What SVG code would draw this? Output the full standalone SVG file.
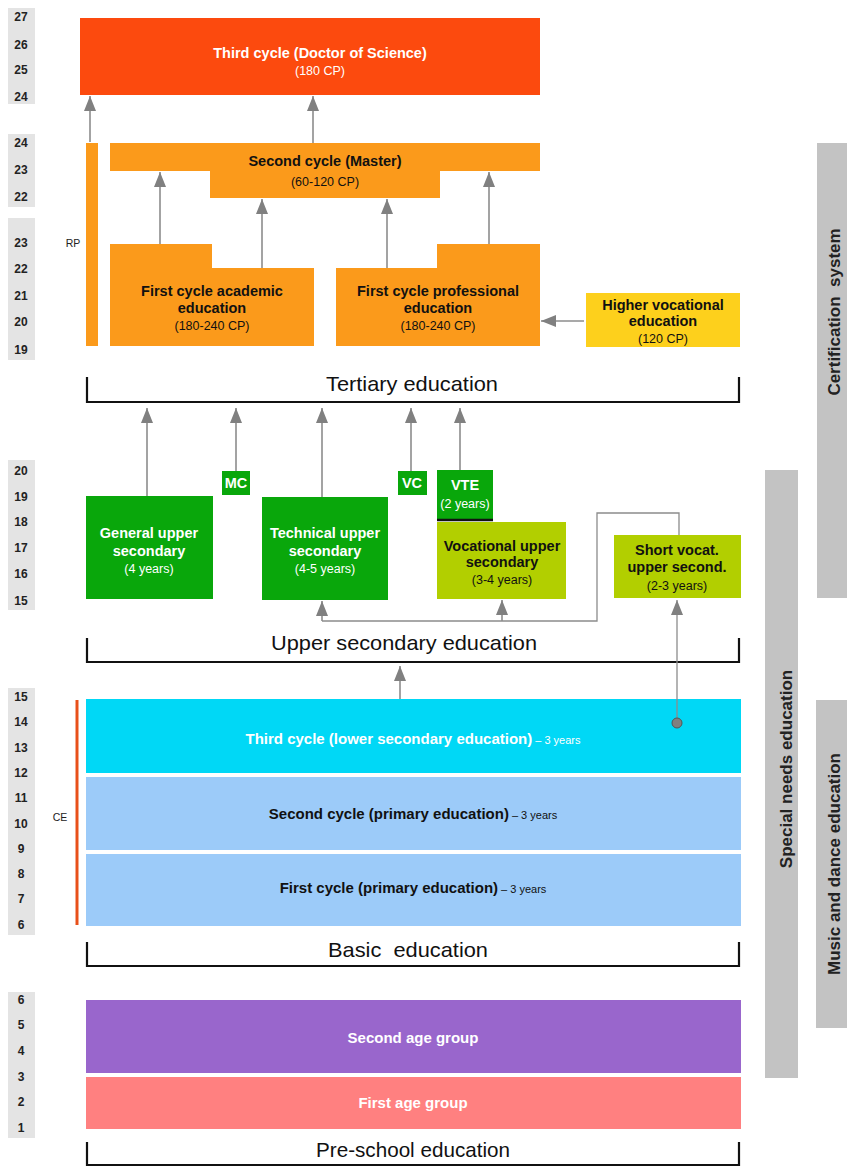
<svg xmlns="http://www.w3.org/2000/svg" width="847" height="1166" viewBox="0 0 847 1166">
<style>
text{font-family:"Liberation Sans",Arial,sans-serif}
.num{font-size:12px;font-weight:bold;fill:#222;text-anchor:middle}
.nbg{fill:#e4e4e4}
.t{font-size:14.5px;font-weight:bold;text-anchor:middle}
.s{font-size:12.5px;text-anchor:middle}
.w{fill:#fff}
.k{fill:#111}
.br{fill:none;stroke:#111;stroke-width:2.2}
.bl{font-size:21px;text-anchor:middle;fill:#111}
.con{fill:none;stroke:#8c8c8c;stroke-width:1.6}
.thin{fill:none;stroke:#8c8c8c;stroke-width:1.3}
.gbar{fill:#c3c3c3}
.vl{font-size:17px;font-weight:bold;text-anchor:middle;fill:#222}
.bb{font-size:15px;font-weight:bold}
.by{font-size:11px}
</style>
<defs>
<marker id="ah" markerUnits="userSpaceOnUse" markerWidth="16" markerHeight="12" refX="15" refY="6" orient="auto">
<path d="M0,0 L15,6 L0,12 z" fill="#808080"/>
</marker>
</defs>
<rect width="847" height="1166" fill="#fff"/>

<g id="age-scale">
<rect class="nbg" x="8" y="8" width="27" height="96"/>
<text class="num" x="21" y="21">27</text><text class="num" x="21" y="49">26</text><text class="num" x="21" y="74">25</text><text class="num" x="21" y="101">24</text>
<rect class="nbg" x="8" y="134" width="27" height="73"/>
<text class="num" x="21" y="147">24</text><text class="num" x="21" y="174">23</text><text class="num" x="21" y="201">22</text>
<rect class="nbg" x="8" y="218" width="27" height="142"/>
<text class="num" x="21" y="247">23</text><text class="num" x="21" y="273">22</text><text class="num" x="21" y="300">21</text><text class="num" x="21" y="326">20</text><text class="num" x="21" y="354">19</text>
<rect class="nbg" x="8" y="460" width="27" height="150"/>
<text class="num" x="21" y="475">20</text><text class="num" x="21" y="501">19</text><text class="num" x="21" y="526">18</text><text class="num" x="21" y="552">17</text><text class="num" x="21" y="578">16</text><text class="num" x="21" y="605">15</text>
<rect class="nbg" x="8" y="688" width="27" height="247"/>
<text class="num" x="21" y="701">15</text><text class="num" x="21" y="726">14</text><text class="num" x="21" y="752">13</text><text class="num" x="21" y="777">12</text><text class="num" x="21" y="802">11</text><text class="num" x="21" y="828">10</text><text class="num" x="21" y="853">9</text><text class="num" x="21" y="878">8</text><text class="num" x="21" y="903">7</text><text class="num" x="21" y="929">6</text>
<rect class="nbg" x="8" y="992" width="27" height="146"/>
<text class="num" x="21" y="1004">6</text><text class="num" x="21" y="1029">5</text><text class="num" x="21" y="1055">4</text><text class="num" x="21" y="1081">3</text><text class="num" x="21" y="1106">2</text><text class="num" x="21" y="1132">1</text>
</g>

<g id="third-cycle-doctor">
<rect x="80" y="18" width="460" height="77" fill="#fc4a0e"/>
<text class="t w" x="320" y="58">Third cycle (Doctor of Science)</text>
<text class="s w" x="320" y="75">(180 CP)</text>
</g>

<g id="rp">
<rect x="86" y="143" width="12" height="203" fill="#fb9a1b"/>
<text x="73" y="247" font-size="10.5" text-anchor="middle" fill="#222">RP</text>
</g>

<g id="second-cycle-master">
<path d="M110,143 H540 V171 H440 V198 H210 V171 H110 Z" fill="#fb9a1b"/>
<text class="t k" x="325" y="166">Second cycle (Master)</text>
<text class="s k" x="325" y="186">(60-120 CP)</text>
</g>

<g id="first-cycle-academic">
<path d="M110,244 H212 V268 H314 V346 H110 Z" fill="#fb9a1b"/>
<text class="t k" x="212" y="296">First cycle academic</text>
<text class="t k" x="212" y="313">education</text>
<text class="s k" x="212" y="330">(180-240 CP)</text>
</g>

<g id="first-cycle-professional">
<path d="M336,268 H437 V244 H540 V346 H336 Z" fill="#fb9a1b"/>
<text class="t k" x="438" y="296">First cycle professional</text>
<text class="t k" x="438" y="313">education</text>
<text class="s k" x="438" y="330">(180-240 CP)</text>
</g>

<g id="higher-vocational">
<rect x="586" y="293" width="154" height="54" fill="#fdd01c"/>
<text class="t k" x="663" y="310">Higher vocational</text>
<text class="t k" x="663" y="326">education</text>
<text class="s k" x="663" y="343">(120 CP)</text>
</g>

<g id="tertiary-bracket">
<path class="br" d="M87,377 V402 H739 V377"/>
<text class="bl" x="412" y="391" textLength="172" lengthAdjust="spacingAndGlyphs">Tertiary education</text>
</g>

<g id="mc"><rect x="222" y="471" width="28" height="24" fill="#09a70b"/><text class="t w" x="236" y="488" font-size="14">MC</text></g>
<g id="vc"><rect x="398" y="471" width="29" height="24" fill="#09a70b"/><text class="t w" x="412" y="488" font-size="14">VC</text></g>
<g id="vte">
<rect x="437" y="470" width="56" height="50" fill="#09a70b"/>
<line x1="437" y1="520" x2="493" y2="520" stroke="#111" stroke-width="2.5"/>
<text class="t w" x="465" y="490">VTE</text>
<text class="s w" x="465" y="508">(2 years)</text>
</g>

<g id="general-upper-secondary">
<rect x="86" y="496" width="127" height="103" fill="#09a70b"/>
<text class="t w" x="149" y="538">General upper</text>
<text class="t w" x="149" y="556">secondary</text>
<text class="s w" x="149" y="573">(4 years)</text>
</g>
<g id="technical-upper-secondary">
<rect x="262" y="497" width="126" height="103" fill="#09a70b"/>
<text class="t w" x="325" y="538">Technical upper</text>
<text class="t w" x="325" y="556">secondary</text>
<text class="s w" x="325" y="573">(4-5 years)</text>
</g>
<g id="vocational-upper-secondary">
<rect x="437" y="522" width="129" height="77" fill="#b2cf00"/>
<text class="t k" x="502" y="551">Vocational upper</text>
<text class="t k" x="502" y="567">secondary</text>
<text class="s k" x="502" y="584">(3-4 years)</text>
</g>
<g id="short-vocational">
<rect x="614" y="535" width="127" height="63" fill="#b2cf00"/>
<text class="t k" x="677" y="555">Short vocat.</text>
<text class="t k" x="677" y="572">upper second.</text>
<text class="s k" x="677" y="590">(2-3 years)</text>
</g>

<g id="upper-secondary-bracket">
<path class="br" d="M87,638 V662 H739 V638"/>
<text class="bl" x="404" y="650" textLength="266" lengthAdjust="spacingAndGlyphs">Upper secondary education</text>
</g>

<g id="basic-third-cycle">
<rect x="86" y="699" width="655" height="74" fill="#00d8f6"/>
<text x="413" y="744" text-anchor="middle" fill="#fff"><tspan class="bb">Third cycle (lower secondary education)</tspan><tspan class="by"> – 3 years</tspan></text>
</g>
<g id="basic-second-cycle">
<rect x="86" y="777" width="655" height="73" fill="#9ccbf9"/>
<text x="413" y="819" text-anchor="middle" fill="#111"><tspan class="bb">Second cycle (primary education)</tspan><tspan class="by"> – 3 years</tspan></text>
</g>
<g id="basic-first-cycle">
<rect x="86" y="854" width="655" height="72" fill="#9ccbf9"/>
<text x="413" y="893" text-anchor="middle" fill="#111"><tspan class="bb">First cycle (primary education)</tspan><tspan class="by"> – 3 years</tspan></text>
</g>
<g id="ce">
<line x1="77" y1="700" x2="77" y2="925" stroke="#e8501a" stroke-width="3"/>
<text x="60" y="821" font-size="10.5" text-anchor="middle" fill="#222">CE</text>
</g>
<g id="basic-bracket">
<path class="br" d="M87,942 V966 H739 V942"/>
<text class="bl" x="408" y="957" xml:space="preserve" textLength="160" lengthAdjust="spacingAndGlyphs">Basic  education</text>
</g>

<g id="second-age-group">
<rect x="86" y="1000" width="655" height="73" fill="#9966cc"/>
<text class="bb w" x="413" y="1043" text-anchor="middle">Second age group</text>
</g>
<g id="first-age-group">
<rect x="86" y="1077" width="655" height="52" fill="#ff8080"/>
<text class="bb w" x="413" y="1108" text-anchor="middle">First age group</text>
</g>
<g id="preschool-bracket">
<path class="br" d="M87,1142 V1165 H739 V1142"/>
<text class="bl" x="413" y="1157" textLength="194" lengthAdjust="spacingAndGlyphs">Pre-school education</text>
</g>

<g id="certification-system">
<rect class="gbar" x="817" y="143" width="30" height="455"/>
<text class="vl" transform="translate(840,312) rotate(-90)" xml:space="preserve">Certification  system</text>
</g>
<g id="special-needs">
<rect class="gbar" x="765" y="470" width="33" height="608"/>
<text class="vl" transform="translate(792,769) rotate(-90)">Special needs education</text>
</g>
<g id="music-dance">
<rect class="gbar" x="816" y="700" width="31" height="328"/>
<text class="vl" transform="translate(840,864) rotate(-90)">Music and dance education</text>
</g>

<g id="connectors">
<line class="con" x1="90" y1="142" x2="90" y2="96" marker-end="url(#ah)"/>
<line class="con" x1="313" y1="143" x2="313" y2="96" marker-end="url(#ah)"/>
<line class="con" x1="160" y1="244" x2="160" y2="172" marker-end="url(#ah)"/>
<line class="con" x1="262" y1="268" x2="262" y2="199" marker-end="url(#ah)"/>
<line class="con" x1="387" y1="268" x2="387" y2="199" marker-end="url(#ah)"/>
<line class="con" x1="489" y1="244" x2="489" y2="172" marker-end="url(#ah)"/>
<line class="con" x1="584" y1="321" x2="541" y2="321" marker-end="url(#ah)"/>
<line class="con" x1="147" y1="496" x2="147" y2="408" marker-end="url(#ah)"/>
<line class="con" x1="236" y1="471" x2="236" y2="408" marker-end="url(#ah)"/>
<line class="con" x1="322" y1="497" x2="322" y2="408" marker-end="url(#ah)"/>
<line class="con" x1="411" y1="471" x2="411" y2="408" marker-end="url(#ah)"/>
<line class="con" x1="460" y1="470" x2="460" y2="408" marker-end="url(#ah)"/>
<polyline class="thin" points="679,535 679,513 597,513 597,621 322,621"/>
<line class="con" x1="322" y1="621" x2="322" y2="601" marker-end="url(#ah)"/>
<line class="con" x1="502" y1="621" x2="502" y2="600" marker-end="url(#ah)"/>
<line class="con" x1="400" y1="699" x2="400" y2="666" marker-end="url(#ah)"/>
<line class="thin" x1="677" y1="723" x2="677" y2="600" marker-end="url(#ah)"/>
<circle cx="677" cy="723" r="5" fill="#808080" stroke="#555" stroke-width="1"/>
</g>
</svg>
